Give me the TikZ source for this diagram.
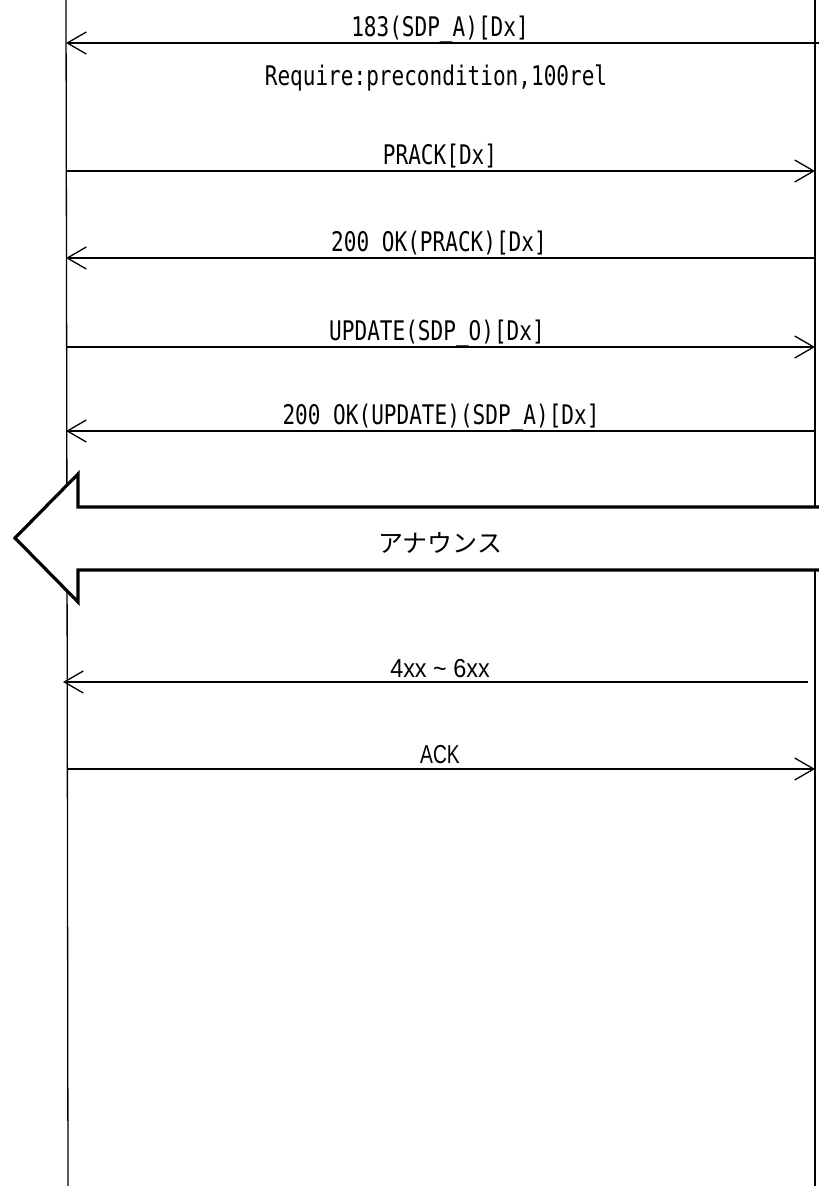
\documentclass[tikz,border=0pt]{standalone}
\usepackage{fontspec}
\usetikzlibrary{arrows.meta}
\newfontfamily\msgfont[FakeStretch=0.78]{DejaVu Sans Mono}
\newfontfamily\jpfont{Noto Sans CJK JP}
\newfontfamily\widefont[FakeStretch=0.9]{Liberation Sans}
\newfontfamily\narrowfont[FakeStretch=0.74]{Liberation Sans}
\tikzset{
  life/.style={line width=1.3pt},
  msg/.style={line width=1.9pt,-{Straight Barb[length=19pt,width=22pt,line width=1.3pt]}},
  lbl/.style={inner sep=0pt,anchor=base,font=\msgfont\fontsize{27}{32}\selectfont},
  lbla/.style={inner sep=0pt,anchor=base,font=\widefont\fontsize{26}{30}\selectfont},
  lblb/.style={inner sep=0pt,anchor=base,font=\narrowfont\fontsize{26}{30}\selectfont},
  bigarrow/.style={line width=3.2pt,fill=white,line join=miter}
}
\begin{document}
\begin{tikzpicture}[x=1pt,y=-1pt]
\useasboundingbox (0,0) rectangle (819,1186);
\clip (0,0) rectangle (819,1186);
% lifelines
\coordinate (LT) at (66,0);
\coordinate (LM) at (67,540);
\coordinate (LB) at (68,1186);
\coordinate (RT) at (815,0);
\coordinate (RB) at (815,1186);
\draw[life] (LT) -- (LM) -- (LB);
\draw[life] (RT) -- (RB);
% message end points
\coordinate (m1L) at (66,43);   \coordinate (m1R) at (819,43);
\coordinate (m2L) at (66,171);  \coordinate (m2R) at (815,171);
\coordinate (m3L) at (66,258);  \coordinate (m3R) at (815,258);
\coordinate (m4L) at (66,347);  \coordinate (m4R) at (815,347);
\coordinate (m5L) at (66,431);  \coordinate (m5R) at (815,431);
\coordinate (m6L) at (63,682);  \coordinate (m6R) at (808,682);
\coordinate (m7L) at (67,769);  \coordinate (m7R) at (815,769);
% messages
\draw[msg] (m1R) -- (m1L);
\node[lbl] (t1) at (440,36) {183(SDP\_A)[Dx]};
\node[lbl] (t1b) at (436,85) {Require:precondition,100rel};
\draw[msg] (m2L) -- (m2R);
\node[lbl] (t2) at (440,164) {PRACK[Dx]};
\draw[msg] (m3R) -- (m3L);
\node[lbl] (t3) at (439,251) {200 OK(PRACK)[Dx]};
\draw[msg] (m4L) -- (m4R);
\node[lbl] (t4) at (437,340) {UPDATE(SDP\_O)[Dx]};
\draw[msg] (m5R) -- (m5L);
\node[lbl] (t5) at (441,424) {200 OK(UPDATE)(SDP\_A)[Dx]};
% big arrow
\draw[bigarrow] (15,538) -- (78,474) -- (78,507) -- (840,507) -- (840,570) -- (78,570) -- (78,602) -- cycle;
\node[inner sep=0pt,font=\jpfont\fontsize{25}{30}\selectfont] (ann) at (440,543) {アナウンス};
% lower messages
\draw[msg] (m6R) -- (m6L);
\node[lbla] (t6) at (440,677) {4xx \textasciitilde{} 6xx};
\draw[msg] (m7L) -- (m7R);
\node[lblb] (t7) at (440,763) {ACK};
\end{tikzpicture}
\end{document}
